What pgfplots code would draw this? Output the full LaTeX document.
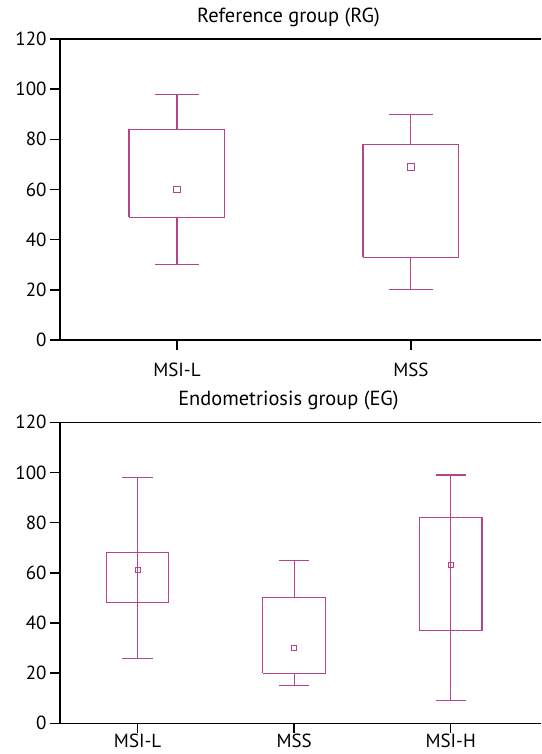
\documentclass[border=0pt]{standalone}
\usepackage{fontspec}
\setmainfont{PT Sans}
\usepackage{pgfplots}
\pgfplotsset{compat=1.18}
\definecolor{boxcol}{RGB}{181,68,137}
\pgfplotsset{
  myaxis/.style={
    scale only axis,
    width=481pt,
    height=301pt,
    anchor=south west,
    ymin=0, ymax=120,
    ytick={0,20,...,120},
    axis x line*=bottom,
    axis y line*=left,
    axis line style={line width=1.5pt, black},
    tick align=outside,
    major tick length=10pt,
    tick style={line width=1.5pt, black},
    tick label style={font=\fontsize{19}{22}\selectfont},
    /pgf/number format/assume math mode=true,
    title style={font=\fontsize{20.4}{24}\selectfont, anchor=base, at={(rel axis cs:0.475,1)}, yshift=10.5pt},
    clip=false,
  },
  mybox/.style={boxcol, line width=1.1pt, solid, no markers, unbounded coords=jump},
}
\begin{document}
\begin{tikzpicture}
\useasboundingbox (0pt,0pt) rectangle (541pt,754pt);
% Top panel
\begin{axis}[myaxis,
  at={(60pt,414pt)},
  xmin=-0.5, xmax=1.556,
  xtick={0,1},
  xticklabels={MSI-L,MSS},
  xticklabel style={yshift=-9pt},
  title={Reference group (RG)},
]
% MSI-L: whiskers 30-98, box 49-84
\addplot[mybox] coordinates {(-0.205,49) (0.205,49) (0.205,84) (-0.205,84) (-0.205,49)};
\addplot[mybox] coordinates {(0,84) (0,98) (0,nan) (-0.095,98) (0.095,98) (0,nan) (0,49) (0,30) (0,nan) (-0.095,30) (0.095,30)};
% MSS: whiskers 20-90, box 33-78
\addplot[mybox] coordinates {(0.795,33) (1.205,33) (1.205,78) (0.795,78) (0.795,33)};
\addplot[mybox] coordinates {(1,78) (1,90) (1,nan) (0.905,90) (1.095,90) (1,nan) (1,33) (1,20) (1,nan) (0.905,20) (1.095,20)};
% means
\addplot[only marks, mark=square, mark size=3.3pt, boxcol, line width=1.1pt] coordinates {(0,60) (1,69)};
\draw[line width=1.5pt] (rel axis cs:0,1) -- (rel axis cs:1,1);
\end{axis}
% Bottom panel
\begin{axis}[myaxis,
  at={(60pt,30.7pt)},
  xmin=-0.496, xmax=2.577,
  xtick={0,1,2},
  xticklabels={MSI-L,MSS,MSI-H},
  xticklabel style={yshift=3pt},
  title={Endometriosis group (EG)},
]
% MSI-L: whiskers 26-98 (through box), box 48-68
\addplot[mybox] coordinates {(-0.2,48) (0.2,48) (0.2,68) (-0.2,68) (-0.2,48)};
\addplot[mybox] coordinates {(0,26) (0,98) (0,nan) (-0.097,98) (0.097,98) (0,nan) (-0.097,26) (0.097,26)};
% MSS: whiskers 15-65, box 20-50
\addplot[mybox] coordinates {(0.8,20) (1.2,20) (1.2,50) (0.8,50) (0.8,20)};
\addplot[mybox] coordinates {(1,50) (1,65) (1,nan) (0.903,65) (1.097,65) (1,nan) (1,20) (1,15) (1,nan) (0.903,15) (1.097,15)};
% MSI-H: whiskers 9-99 (through box), box 37-82
\addplot[mybox] coordinates {(1.8,37) (2.2,37) (2.2,82) (1.8,82) (1.8,37)};
\addplot[mybox] coordinates {(2,9) (2,99) (2,nan) (1.903,99) (2.097,99) (2,nan) (1.903,9) (2.097,9)};
% means
\addplot[only marks, mark=square, mark size=2.5pt, boxcol, line width=1.1pt] coordinates {(0,61) (1,30) (2,63)};
\draw[line width=1.5pt] (rel axis cs:0,1) -- (rel axis cs:1,1);
\end{axis}
\end{tikzpicture}
\end{document}
